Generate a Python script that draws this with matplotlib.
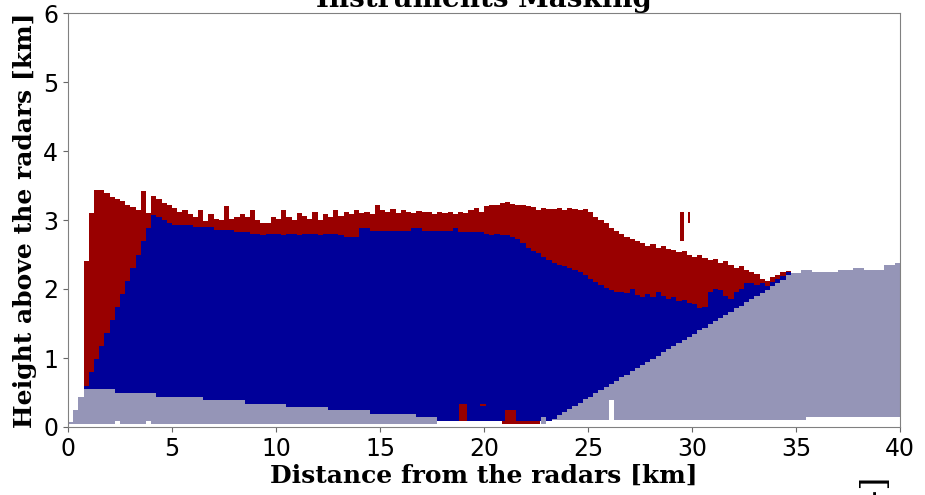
import numpy as np
import matplotlib
matplotlib.use("Agg")
import matplotlib.pyplot as plt

# ---------------- data ----------------
col_width = 0.25  # km, width of each range column
n_cols = 160

grey_bot = [0.05, 0.05, 0.05, 0.05, 0.05, 0.05, 0.05, 0.05, 0.05, 0.09, 0.05, 0.05, 0.05, 0.05, 0.05, 0.09, 0.05, 0.05, 0.05, 0.05,
            0.05, 0.05, 0.05, 0.05, 0.05, 0.05, 0.05, 0.05, 0.05, 0.05, 0.05, 0.05, 0.05, 0.05, 0.05, 0.05, 0.05, 0.05, 0.05, 0.05,
            0.05, 0.05, 0.05, 0.05, 0.05, 0.05, 0.05, 0.05, 0.05, 0.05, 0.05, 0.05, 0.05, 0.05, 0.05, 0.05, 0.05, 0.05, 0.05, 0.05,
            0.05, 0.05, 0.05, 0.05, 0.05, 0.05, 0.05, 0.05, 0.05, 0.05, 0.05, 0.09, 0.09, 0.09, 0.09, 0.09, 0.09, 0.09, 0.09, 0.09,
            0.09, 0.09, 0.09, 0.09, 0.09, 0.09, 0.09, 0.09, 0.09, 0.09, 0.09, 0.05, 0.09, 0.10, 0.10, 0.10, 0.10, 0.10, 0.10, 0.10,
            0.10, 0.10, 0.10, 0.10, 0.39, 0.10, 0.10, 0.10, 0.10, 0.10, 0.10, 0.10, 0.10, 0.10, 0.10, 0.10, 0.10, 0.10, 0.10, 0.10,
            0.10, 0.10, 0.10, 0.10, 0.10, 0.10, 0.10, 0.10, 0.10, 0.10, 0.10, 0.10, 0.10, 0.10, 0.10, 0.10, 0.10, 0.10, 0.10, 0.10,
            0.10, 0.10, 0.15, 0.15, 0.15, 0.15, 0.15, 0.15, 0.15, 0.15, 0.15, 0.15, 0.15, 0.15, 0.15, 0.15, 0.15, 0.15, 0.15, 0.15]

grey_top = [0.07, 0.25, 0.44, 0.55, 0.55, 0.55, 0.55, 0.55, 0.55, 0.50, 0.50, 0.50, 0.50, 0.50, 0.50, 0.50, 0.50, 0.44, 0.44, 0.44,
            0.44, 0.44, 0.44, 0.44, 0.44, 0.44, 0.39, 0.39, 0.39, 0.39, 0.39, 0.39, 0.39, 0.39, 0.34, 0.34, 0.34, 0.34, 0.34, 0.34,
            0.34, 0.34, 0.29, 0.29, 0.29, 0.29, 0.29, 0.29, 0.29, 0.29, 0.25, 0.25, 0.25, 0.25, 0.25, 0.25, 0.25, 0.25, 0.19, 0.19,
            0.19, 0.19, 0.19, 0.19, 0.19, 0.19, 0.19, 0.14, 0.14, 0.14, 0.14, 0.09, 0.09, 0.09, 0.09, 0.09, 0.09, 0.09, 0.09, 0.09,
            0.09, 0.09, 0.09, 0.09, 0.09, 0.09, 0.09, 0.09, 0.09, 0.09, 0.09, 0.14, 0.09, 0.12, 0.17, 0.22, 0.26, 0.31, 0.35, 0.40,
            0.44, 0.49, 0.53, 0.58, 0.62, 0.67, 0.72, 0.76, 0.81, 0.85, 0.90, 0.94, 0.99, 1.03, 1.08, 1.13, 1.17, 1.22, 1.26, 1.31,
            1.35, 1.40, 1.44, 1.49, 1.54, 1.58, 1.63, 1.67, 1.72, 1.76, 1.81, 1.85, 1.90, 1.94, 1.99, 2.04, 2.08, 2.13, 2.20, 2.23,
            2.23, 2.28, 2.28, 2.24, 2.24, 2.24, 2.24, 2.24, 2.28, 2.28, 2.28, 2.31, 2.31, 2.28, 2.28, 2.28, 2.28, 2.35, 2.35, 2.38]

blue_top = [0.07, 0.25, 0.44, 0.60, 0.79, 0.98, 1.17, 1.36, 1.55, 1.74, 1.93, 2.12, 2.31, 2.50, 2.69, 2.88, 3.07, 3.05, 3.00, 2.96,
            2.93, 2.93, 2.93, 2.93, 2.90, 2.90, 2.90, 2.90, 2.86, 2.86, 2.86, 2.86, 2.83, 2.83, 2.83, 2.79, 2.80, 2.78, 2.79, 2.80,
            2.79, 2.78, 2.80, 2.79, 2.78, 2.79, 2.80, 2.79, 2.78, 2.79, 2.80, 2.79, 2.78, 2.76, 2.76, 2.76, 2.88, 2.88, 2.84, 2.84,
            2.84, 2.84, 2.84, 2.84, 2.84, 2.84, 2.89, 2.89, 2.84, 2.84, 2.84, 2.84, 2.84, 2.84, 2.89, 2.83, 2.83, 2.83, 2.83, 2.82,
            2.80, 2.78, 2.80, 2.78, 2.78, 2.76, 2.72, 2.66, 2.60, 2.55, 2.52, 2.47, 2.42, 2.38, 2.35, 2.33, 2.30, 2.28, 2.25, 2.20,
            2.14, 2.10, 2.06, 2.02, 1.98, 1.96, 1.95, 1.94, 2.00, 1.92, 1.88, 1.93, 1.88, 1.95, 1.90, 1.85, 1.88, 1.82, 1.84, 1.80,
            1.78, 1.72, 1.74, 1.95, 2.00, 1.98, 1.90, 1.85, 1.95, 2.00, 2.08, 2.08, 2.06, 2.08, 2.04, 2.10, 2.14, 2.19, 2.24, 2.23,
            2.23, 2.28, 2.28, 2.24, 2.24, 2.24, 2.24, 2.24, 2.28, 2.28, 2.28, 2.31, 2.31, 2.28, 2.28, 2.28, 2.28, 2.35, 2.35, 2.38]

red_top = [0.07, 0.25, 0.44, 2.40, 3.10, 3.43, 3.43, 3.39, 3.34, 3.30, 3.27, 3.22, 3.19, 3.15, 3.42, 3.10, 3.35, 3.30, 3.25, 3.22,
           3.18, 3.12, 3.15, 3.08, 3.05, 3.15, 2.98, 3.08, 3.02, 3.00, 3.20, 3.02, 3.04, 3.08, 3.04, 3.15, 3.00, 2.96, 2.95, 3.05,
           3.02, 3.15, 3.04, 3.00, 3.10, 3.06, 3.02, 3.12, 3.00, 3.08, 3.05, 3.14, 3.06, 3.12, 3.08, 3.14, 3.10, 3.12, 3.08, 3.22,
           3.14, 3.12, 3.16, 3.10, 3.14, 3.12, 3.10, 3.13, 3.11, 3.12, 3.08, 3.12, 3.10, 3.11, 3.08, 3.12, 3.10, 3.14, 3.18, 3.12,
           3.20, 3.22, 3.22, 3.24, 3.26, 3.23, 3.22, 3.22, 3.20, 3.19, 3.14, 3.17, 3.16, 3.16, 3.17, 3.14, 3.17, 3.16, 3.15, 3.16,
           3.12, 3.05, 3.00, 2.95, 2.88, 2.84, 2.80, 2.76, 2.72, 2.70, 2.66, 2.63, 2.65, 2.60, 2.62, 2.58, 2.56, 2.53, 2.55, 2.50,
           2.47, 2.49, 2.45, 2.42, 2.44, 2.38, 2.40, 2.35, 2.30, 2.33, 2.28, 2.25, 2.22, 2.15, 2.12, 2.18, 2.20, 2.24, 2.26, 2.23,
           2.23, 2.28, 2.28, 2.24, 2.24, 2.24, 2.24, 2.24, 2.28, 2.28, 2.28, 2.31, 2.31, 2.28, 2.28, 2.28, 2.28, 2.35, 2.35, 2.38]

# isolated red cells (range start, range end, bottom height, top height)
patch_x0 = [18.8, 19.8, 21.0, 20.85, 29.4, 29.8]
patch_x1 = [19.2, 20.1, 21.55, 22.7, 29.6, 29.9]
patch_h0 = [0.09, 0.30, 0.05, 0.05, 2.70, 2.95]
patch_h1 = [0.34, 0.34, 0.25, 0.09, 3.12, 3.12]

x_ticks = [0, 5, 10, 15, 20, 25, 30, 35, 40]
y_ticks = [0, 1, 2, 3, 4, 5, 6]

GREY = "#9595b7"
BLUE = "#000099"
RED = "#990000"

# ---------------- plot ----------------
gb = np.array(grey_bot)
gt = np.array(grey_top)
bt = np.array(blue_top)
rt = np.array(red_top)
x_left = np.arange(n_cols) * col_width

fig = plt.figure(figsize=(9.25, 4.95), dpi=100)
ax = fig.add_axes([68 / 925, 68 / 495, 832 / 925, 414 / 495])

kw = dict(width=col_width, align="edge", linewidth=0, antialiased=False)
ax.bar(x_left, gt - gb, bottom=gb, color=GREY, **kw)
ax.bar(x_left, bt - gt, bottom=gt, color=BLUE, **kw)
ax.bar(x_left, rt - bt, bottom=bt, color=RED, **kw)

px0 = np.array(patch_x0)
px1 = np.array(patch_x1)
ph0 = np.array(patch_h0)
ph1 = np.array(patch_h1)
ax.bar(px0, ph1 - ph0, width=px1 - px0, bottom=ph0, align="edge",
       color=RED, linewidth=0, antialiased=False)

ax.set_xlim(0, 40)
ax.set_ylim(0, 6)
ax.set_xticks(x_ticks)
ax.set_yticks(y_ticks)
ax.tick_params(labelsize=17, colors="0.4", labelcolor="black")
for s in ax.spines.values():
    s.set_color("0.5")

lab = dict(fontfamily="DejaVu Serif", fontweight="bold", fontsize=18)
ax.set_xlabel("Distance from the radars [km]", labelpad=2, **lab)
ax.set_ylabel("Height above the radars [km]", labelpad=4, **lab)
ax.set_title("Instruments Masking", fontfamily="DejaVu Serif",
             fontweight="bold", fontsize=20, pad=4)

fig.text(873 / 925, 1 - 474 / 495, "[-]", rotation=90, ha="center",
         va="top", fontfamily="DejaVu Serif", fontweight="normal", fontsize=24)

fig.savefig("out.png", dpi=100)
